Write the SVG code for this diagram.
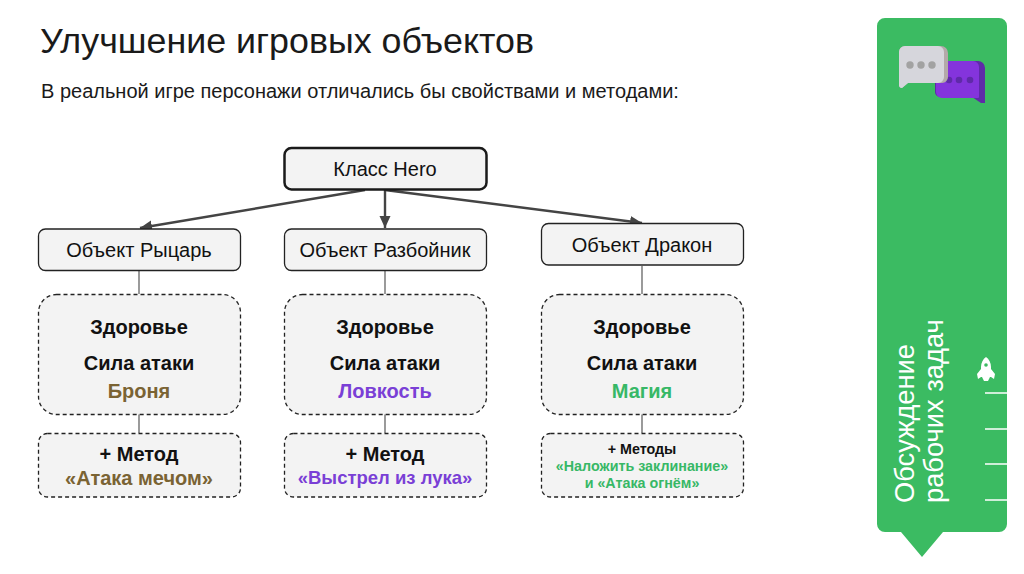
<svg xmlns="http://www.w3.org/2000/svg" width="1024" height="574" viewBox="0 0 1024 574">
<style>
text{font-family:"Liberation Sans",Arial,sans-serif;text-anchor:middle;fill:#111}
.b{font-weight:bold}
.box{fill:#f3f3f3;stroke:#222;stroke-width:1.3}
.dash{fill:#f3f3f3;stroke:#222;stroke-width:1.3;stroke-dasharray:4 3}
.lnk{stroke:#666;stroke-width:1.3;fill:none}
.arr{stroke:#444;stroke-width:2.4;fill:none;marker-end:url(#a)}
.f19{font-size:20px}.n{font-size:20px}
.brown{fill:#7a6333}.purple{fill:#7a3fd6}.green{fill:#37b866}
</style>
<defs><marker id="a" markerUnits="userSpaceOnUse" markerWidth="14" markerHeight="12" refX="12" refY="5.500" orient="auto"><path d="M0 0L12 5.500L0 11z" fill="#444"/></marker></defs>
<rect width="1024" height="574" fill="#fff"/>
<text x="40" y="53" style="text-anchor:start;font-size:35.800px;fill:#1a1a1a" id="title">Улучшение игровых объектов</text>
<text x="41" y="98" style="text-anchor:start;font-size:20px;fill:#1a1a1a" id="subtitle">В реальной игре персонажи отличались бы свойствами и методами:</text>
<g id="connectors">
<path class="arr" d="M365 190L140 228"/>
<path class="arr" d="M385 190V228"/>
<path class="arr" d="M385 190L642 223"/>
<path class="lnk" d="M139 271V294M385 271V294M642 266V294M139 414V433M385 414V433M642 414V433"/>
</g>
<g id="hero"><rect x="284.500" y="148" width="202" height="41.500" rx="7" fill="#f3f3f3" stroke="#1a1a1a" stroke-width="2.500"/><text x="385" y="176" class="n">Класс Hero</text></g>
<g id="knight"><rect class="box" x="38.500" y="229" width="202" height="41.500" rx="7"/><text x="139" y="257" class="n">Объект Рыцарь</text></g>
<g id="rogue"><rect class="box" x="284.500" y="229" width="202" height="41.500" rx="7"/><text x="385" y="257" class="n">Объект Разбойник</text></g>
<g id="dragon"><rect class="box" x="541.500" y="223.500" width="202" height="41.500" rx="7"/><text x="642" y="252" class="n">Объект Дракон</text></g>
<g id="knight-props"><rect class="dash" x="38.500" y="294.500" width="202" height="120" rx="18"/><text x="139" y="334" class="b f19">Здоровье</text><text x="139" y="370" class="b f19">Сила атаки</text><text x="139" y="398" class="b f19 brown">Броня</text></g>
<g id="rogue-props"><rect class="dash" x="284.500" y="294.500" width="202" height="120" rx="18"/><text x="385" y="334" class="b f19">Здоровье</text><text x="385" y="370" class="b f19">Сила атаки</text><text x="385" y="398" class="b f19 purple">Ловкость</text></g>
<g id="dragon-props"><rect class="dash" x="541.500" y="294.500" width="202" height="120" rx="18"/><text x="642" y="334" class="b f19">Здоровье</text><text x="642" y="370" class="b f19">Сила атаки</text><text x="642" y="398" class="b f19 green">Магия</text></g>
<g id="knight-method"><rect class="dash" x="38.500" y="433.500" width="202" height="63.500" rx="9"/><text x="139" y="461" class="b f19">+ Метод</text><text x="139" y="485" class="b f19 brown">«Атака мечом»</text></g>
<g id="rogue-method"><rect class="dash" x="284.500" y="433.500" width="202" height="63.500" rx="9"/><text x="385" y="461" class="b f19">+ Метод</text><text x="385" y="484" class="b" style="font-size:18.500px;fill:#7a3fd6">«Выстрел из лука»</text></g>
<g id="dragon-method"><rect class="dash" x="541.500" y="433.500" width="202" height="63.500" rx="9"/><text x="642" y="454" class="b" style="font-size:14.300px">+ Методы</text><text x="642" y="471" class="b green" style="font-size:14.300px">«Наложить заклинание»</text><text x="642" y="488" class="b green" style="font-size:14.300px">и «Атака огнём»</text></g>
<g id="sidebar">
<path d="M885 18H999a8 8 0 0 1 8 8V524a8 8 0 0 1-8 8H943L922 557L901 532H885a8 8 0 0 1-8-8V26a8 8 0 0 1 8-8z" fill="#3bbb62"/>
<path d="M940 61h38a7 7 0 0 1 7 7v35l-1 0-3 0-9-6h-32a5 5 0 0 1-5-5V66a5 5 0 0 1 5-5z" fill="#5f2aa8"/>
<path d="M941 61h32a6 6 0 0 1 6 6v30a1 1 0 0 1-1 1h-36a6 6 0 0 1-6-6V67z" fill="#8434dc"/>
<circle cx="949" cy="80" r="3.300" fill="#5f2aa8"/><circle cx="959" cy="80" r="3.300" fill="#5f2aa8"/><circle cx="970" cy="80" r="3.300" fill="#5f2aa8"/>
<path d="M905 46h36a7 7 0 0 1 7 7v24a6 6 0 0 1-6 6H908l-6 5a3 3 0 0 1-3-2V52a6 6 0 0 1 6-6z" fill="#b3a9a9"/>
<path d="M905 46h33a6 6 0 0 1 6 6v25a6 6 0 0 1-6 6H908l-6 5a3 3 0 0 1-3-2V52a6 6 0 0 1 6-6z" fill="#d6d6dc"/>
<circle cx="910" cy="65" r="3.700" fill="#a2a2a2"/><circle cx="921" cy="65" r="3.700" fill="#a2a2a2"/><circle cx="932" cy="65" r="3.700" fill="#a2a2a2"/>
<text transform="translate(914 503) rotate(-90)" style="text-anchor:start;font-size:27.300px;fill:#fff">Обсуждение</text>
<text transform="translate(943 503) rotate(-90)" style="text-anchor:start;font-size:27.300px;fill:#fff">рабочих задач</text>
<path d="M986 357c3 2 5 6 5 10v2l4 5-1 5-3-2h-1l-2 4h-4l-2-4h-1l-3 2-1-5 4-5v-2c0-4 2-8 5-10z" fill="#fff"/><circle cx="986" cy="365" r="1.800" fill="#3bbb62"/>
<path d="M985 393H1007M985 429H1007M985 464H1007M985 500H1007" stroke="#fff" stroke-width="1.300"/>
</g>
</svg>
